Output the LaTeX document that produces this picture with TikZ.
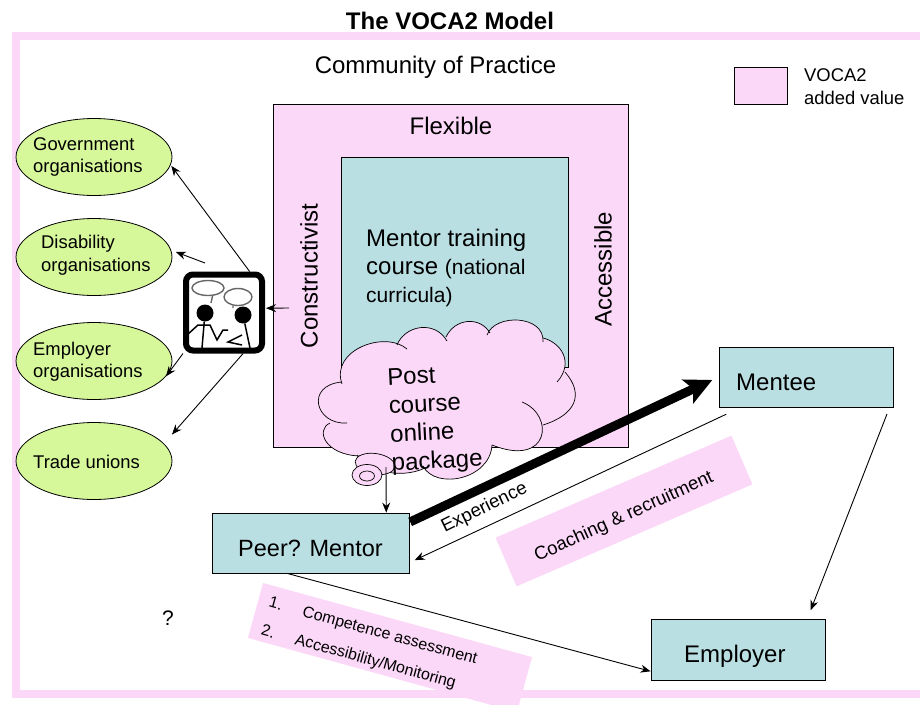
\documentclass[tikz,border=0pt]{standalone}
\usepackage{fontspec}
\setmainfont{Liberation Sans}
\usetikzlibrary{arrows.meta,shapes.geometric}
\definecolor{vocapink}{HTML}{FCD8F8}
\definecolor{vocateal}{HTML}{BADFE2}
\definecolor{vocagreen}{HTML}{D6F79A}

\begin{document}
\begin{tikzpicture}[x=1pt,y=-1pt,->,>={Stealth[length=10pt,width=8pt]},
                    big/.style={font=\fontsize{24}{28}\selectfont,inner sep=0pt},
                    small/.style={font=\fontsize{18.4}{22.5}\selectfont,inner sep=0pt,align=left},
                    tiny/.style={font=\fontsize{16}{29}\selectfont,inner sep=0pt,align=left},
                    tealbox/.style={draw=black,line width=0.8pt,fill=vocateal,inner sep=0pt},
                    org/.style={ellipse,draw=black,line width=0.8pt,fill=vocagreen,inner sep=0pt,
                                minimum width=156pt,minimum height=77pt},
                    band/.style={fill=vocapink,inner sep=0pt},
                    link/.style={line width=0.9pt},
                    sketch/.style={-,line width=1.4pt,draw=black!60}]
  \useasboundingbox (0,0) rectangle (920,704);

  \node[draw=vocapink,line width=8pt,minimum width=910pt,minimum height=658pt,inner sep=0pt] (frame) at (471,365) {};

  \node[big,font=\bfseries\fontsize{24}{28}\selectfont] (title) at (450,21) {The VOCA2 Model};
  \node[big] (community) at (435.5,67) {Community of Practice};

  \node[draw=black,line width=0.8pt,fill=vocapink,minimum width=53pt,minimum height=37pt,inner sep=0pt] (legend) at (760.5,85.5) {};
  \node[small,anchor=west] (legendtext) at (804,86.5) {VOCA2\\added value};

  \node[draw=black,line width=0.8pt,fill=vocapink,minimum width=355.5pt,minimum height=343pt,inner sep=0pt] (values) at (451,275.5) {};
  \node[tealbox,minimum width=227pt,minimum height=210pt] (course) at (454.5,262) {};
  \node[big] (flexible) at (451,126) {Flexible};
  \node[big,rotate=90] (constructivist) at (309,276) {Constructivist};
  \node[big,rotate=90] (accessible) at (603,269) {Accessible};
  \node[big,align=left,anchor=north west] (coursetext) at (366,229)
       {Mentor training\\course {\fontsize{21}{28}\selectfont (national}\\{\fontsize{21}{28}\selectfont curricula)}};

  \foreach \a/\b/\c/\d in {{342,384}/{330,350}/{385,330}/{407,349},
                           {397,345}/{405,325}/{435,320}/{447,341},
                           {446,337}/{455,318}/{480,316}/{490,333},
                           {487,335}/{495,313}/{545,315}/{543,342},
                           {543,338}/{560,342}/{575,362}/{557,382},
                           {565,372}/{585,395}/{575,415}/{543,425},
                           {522,402}/{555,415}/{550,468}/{492,445},
                           {492,445}/{490,480}/{435,490}/{423,466},
                           {425,468}/{400,480}/{365,470}/{357,455},
                           {360,456}/{325,455}/{315,430}/{330,423},
                           {347,423}/{315,425}/{305,385}/{342,382}}
    \fill[-,vocapink] (\a) .. controls (\b) and (\c) .. (\d) -- (440,400) -- cycle;
  \foreach \a/\b/\c/\d in {{342,384}/{330,350}/{385,330}/{407,349},
                           {397,345}/{405,325}/{435,320}/{447,341},
                           {446,337}/{455,318}/{480,316}/{490,333},
                           {487,335}/{495,313}/{545,315}/{543,342},
                           {543,338}/{560,342}/{575,362}/{557,382},
                           {565,372}/{585,395}/{575,415}/{543,425},
                           {522,402}/{555,415}/{550,468}/{492,445},
                           {492,445}/{490,480}/{435,490}/{423,466},
                           {425,468}/{400,480}/{365,470}/{357,455},
                           {360,456}/{325,455}/{315,430}/{330,423},
                           {347,423}/{315,425}/{305,385}/{342,382}}
    \draw[-,line width=0.7pt] (\a) .. controls (\b) and (\c) .. (\d);

  \node[ellipse,draw=black,line width=0.7pt,fill=vocapink,minimum width=40pt,minimum height=21pt,inner sep=0pt,rotate=-8] (scrolltop) at (375,464) {};
  \node[ellipse,draw=black,line width=0.7pt,fill=vocapink,minimum width=30pt,minimum height=21pt,inner sep=0pt] (scroll) at (367,475) {};
  \node[ellipse,draw=black,line width=0.7pt,minimum width=15pt,minimum height=10pt,inner sep=0pt] (scrollhole) at (367,476) {};
  \node[big,rotate=3,align=left,font=\fontsize{24}{28.5}\selectfont] (packagetext) at (435,420) {Post\\course\\online\\package};

  \node[org] (gov) at (94,157) {};
  \node[org] (dis) at (94,257) {};
  \node[org] (emp) at (94,361) {};
  \node[org] (trade) at (94,461) {};
  \node[small,anchor=west] (govtext) at (33,157) {Government\\organisations};
  \node[small,anchor=west] (distext) at (41,255) {Disability\\organisations};
  \node[small,anchor=west] (emptext) at (33,361.5) {Employer\\organisations};
  \node[small,anchor=west] (tradetext) at (33,462) {Trade unions};

  \node[draw=black,line width=6pt,rounded corners=7pt,fill=white,minimum size=76pt,inner sep=0pt] (icon) at (224,312.5) {};
  \node[ellipse,sketch,minimum width=32pt,minimum height=15pt,inner sep=0pt] (bubbleA) at (208,288) {};
  \node[ellipse,sketch,minimum width=28pt,minimum height=17pt,inner sep=0pt] (bubbleB) at (238,297) {};
  \node[circle,fill=black,minimum size=17pt,inner sep=0pt] (headA) at (205,313) {};
  \node[circle,fill=black,minimum size=17pt,inner sep=0pt] (headB) at (243,315) {};
  \draw[sketch] (bubbleA.-60) -- (211,303);
  \draw[sketch] (bubbleB.-120) -- (233,308);
  \draw[-,line width=1.5pt] (headA) -- (202,348);
  \draw[-,line width=1.5pt] (headB) -- (250,348);
  \draw[-,line width=1.5pt] (187,335) -- (198,325) -- (210,325) -- (217,340) -- (223,330) -- (228,330);
  \draw[-,line width=1.5pt] (242,335) -- (228,342) -- (242,345);

  \node[tealbox,minimum width=174pt,minimum height=60pt] (mentee) at (806,377) {};
  \node[big,anchor=west] (menteetext) at (736,382) {Mentee};
  \node[tealbox,minimum width=197.5pt,minimum height=60pt] (peer) at (311,543) {};
  \node[big,anchor=west,font=\fontsize{23.5}{28}\selectfont] (peertext) at (238,548) {Peer? Mentor};
  \node[tealbox,minimum width=174pt,minimum height=61pt] (employer) at (738,649.5) {};
  \node[big,anchor=west] (employertext) at (684,656) {Employer};

  \node[band,rotate=23.4,minimum width=257pt,minimum height=53pt] (coaching) at (624,511) {};
  \node[small,rotate=24.5,font=\fontsize{18.6}{22}\selectfont] (coachingtext) at (624,517) {Coaching \& recruitment};
  \node[band,rotate=-15.4,minimum width=279pt,minimum height=57pt] (duties) at (390,647.5) {};
  \node[tiny,rotate=-15.4,anchor=west] (dutiestext) at (265,617)
       {\makebox[35pt][l]{1.}Competence assessment\\\makebox[35pt][l]{2.}Accessibility/Monitoring};
  \node[font=\fontsize{21}{25}\selectfont,inner sep=0pt] (question) at (168,618) {?};
  \node[small,rotate=26,font=\fontsize{18.6}{22}\selectfont] (experience) at (484.5,508) {Experience};

  \coordinate (disstart) at (205,263);
  \coordinate (constart) at (289,308);
  \coordinate (scrollstart) at (386,467);

  \draw[link,shorten >=1pt] (icon.58) -- (gov.-6);
  \draw[link,shorten >=5pt] (disstart) -- (dis.5);
  \draw[link] (icon.-135) -- (emp.-12);
  \draw[link,shorten >=12pt] (icon.-65) -- (trade.14);
  \draw[link,shorten >=1pt] (constart) -- (icon.6);
  \draw[link] (scrollstart) -- (peer.22);
  \draw[-{Stealth[length=27pt,width=26pt,inset=6pt]},line width=9pt,shorten >=7pt] (peer.12) -- (mentee.180);
  \draw[link,shorten <=16pt,shorten >=5pt] (mentee.205) -- (peer.-11);
  \draw[link,shorten <=7pt,shorten >=9pt] (mentee.-20) -- (employer.24);
  \draw[link] (peer.232) -- (employer.194);
\end{tikzpicture}
\end{document}
